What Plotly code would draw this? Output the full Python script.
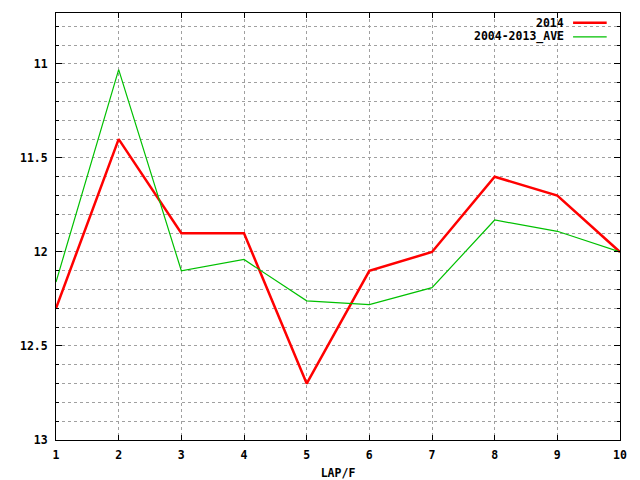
import plotly.graph_objects as go

laps = [1, 2, 3, 4, 5, 6, 7, 8, 9, 10]
y2014 = [12.30, 11.40, 11.90, 11.90, 12.70, 12.10, 12.00, 11.60, 11.70, 12.00]
yave = [12.16, 11.03, 12.10, 12.04, 12.26, 12.28, 12.19, 11.83, 11.89, 12.00]
series_names = ["2014", "2004-2013_AVE"]
y_ticks = [11, 11.5, 12, 12.5, 13]
y_tick_labels = ["11", "11.5", "12", "12.5", "13"]

RED = "#ff0000"
GREEN = "#00c000"
FONT = dict(family="DejaVu Sans Mono", size=11.5, color="black", weight="bold")

fig = go.Figure()
fig.add_trace(go.Scatter(x=laps, y=y2014, mode="lines", name=series_names[0],
                         line=dict(color=RED, width=2.5)))
fig.add_trace(go.Scatter(x=laps, y=yave, mode="lines", name=series_names[1],
                         line=dict(color=GREEN, width=1.2)))

grid = dict(gridcolor="#a0a0a0", gridwidth=1, griddash="3px,3px")

# page body has an 8px margin, so the figure is 632x472 and margins compensate
fig.update_layout(
    width=632, height=472,
    margin=dict(l=48, r=20, t=5, b=40, pad=0),
    paper_bgcolor="white", plot_bgcolor="white",
    showlegend=False,
    font=FONT,
    xaxis=dict(range=[1, 10], tickmode="array", tickvals=laps,
               ticktext=[str(v) for v in laps],
               showline=True, linecolor="black", linewidth=1, mirror="allticks",
               ticks="inside", ticklen=5, tickcolor="black",
               showgrid=True, zeroline=False, tickfont=FONT,
               ticklabelstandoff=4, automargin=False,
               title=dict(text="LAP/F", font=FONT, standoff=10),
               **grid),
    yaxis=dict(range=[13, 10.729], tickmode="array", tickvals=y_ticks,
               ticktext=y_tick_labels,
               showline=True, linecolor="black", linewidth=1, mirror="allticks",
               ticks="inside", ticklen=6, tickcolor="black",
               showgrid=True, zeroline=False, tickfont=FONT,
               ticklabelstandoff=5, automargin=False,
               minor=dict(dtick=0.1, tick0=10.7, ticks="inside", ticklen=3,
                          tickcolor="black", showgrid=True,
                          gridcolor="#a0a0a0", griddash="3px,3px"),
               **grid),
)

# legend (gnuplot style: text right-aligned, sample on the right)
fig.add_shape(type="rect", xref="paper", yref="paper",
              x0=0.745, x1=0.993, y0=0.932, y1=0.99,
              fillcolor="white", line=dict(width=0), layer="between")
leg_rows = [(0.977, RED, 2.5), (0.944, GREEN, 1.2)]
for name, (yy, col, w) in zip(series_names, leg_rows):
    fig.add_annotation(xref="paper", yref="paper", x=0.903, y=yy,
                       text=name, showarrow=False, xanchor="right",
                       yanchor="middle", font=FONT, borderpad=0)
    fig.add_shape(type="line", xref="paper", yref="paper",
                  x0=0.9168, x1=0.9764, y0=yy, y1=yy,
                  line=dict(color=col, width=w))

fig.write_html("out.html")
